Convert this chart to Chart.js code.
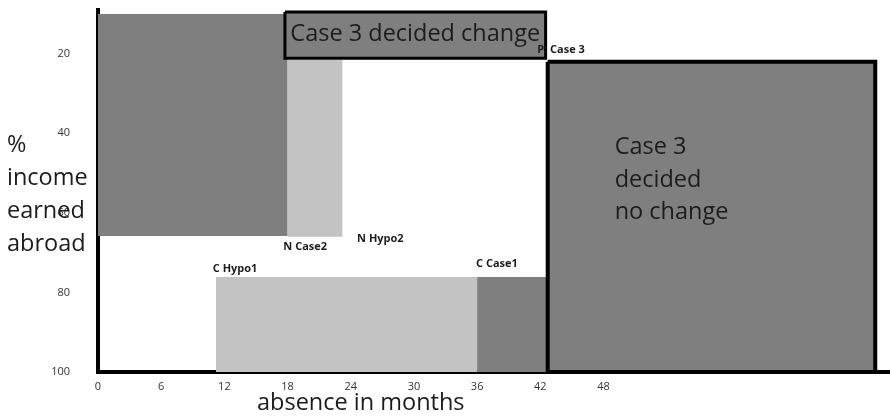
<!DOCTYPE html>
<html>
<head>
<meta charset="utf-8">
<script src="https://cdn.jsdelivr.net/npm/chart.js@4.4.1/dist/chart.umd.min.js"></script>
<style>
    html, body { margin: 0; padding: 0; background: #fff; }
    #wrap { width: 890px; height: 417px; position: relative; }
</style>
</head>
<body>
<div id="wrap"><canvas id="chart"></canvas></div>
<script>
// Areas: months of absence on x, % income earned abroad on y (y grows downward)
const boxXStart   = [0, 18, 17.75, 11.2, 36, 42.7];
const boxXEnd     = [18, 23.2, 42.5, 36, 42.6, 73.8];
const boxYTop     = [10, 21.6, 9.5, 76.1, 76.1, 22];
const boxYBottom  = [65.8, 66, 21.1, 100, 100, 100];
const boxShade    = ['dark', 'light', 'dark', 'light', 'dark', 'dark'];
const boxOutlined = [false, false, true, false, false, true];
const boxText     = ['', '', 'Case 3 decided change', '', '', 'Case 3\ndecided\nno change'];

// Small bold point labels
const pointLabels = ['N Case2', 'N Hypo2', 'C Hypo1', 'C Case1', 'P: Case 3'];
const pointLabelX = [17.6, 24.6, 10.9, 35.9, 41.7];
const pointLabelY = [68.6, 66.6, 74.1, 72.9, 19.1];

const xTicks = [0, 6, 12, 18, 24, 30, 36, 42, 48];
const yTicks = [20, 40, 60, 80, 100];
const xTitle = 'absence in months';
const yTitleLines = ['%', 'income', 'earned', 'abroad'];

const shades = { dark: '#7f7f7f', light: '#c3c3c3' };
const inkColor = '#1c1c1c';

const datasets = boxXStart.map((x0, i) => {
    const x1 = boxXEnd[i], y0 = boxYTop[i], y1 = boxYBottom[i];
    return {
        data: [{x: x0, y: y0}, {x: x1, y: y0}, {x: x1, y: y1}, {x: x0, y: y1}, {x: x0, y: y0}],
        fill: 'shape',
        backgroundColor: shades[boxShade[i]],
        borderColor: boxOutlined[i] ? '#000' : 'rgba(0,0,0,0)',
        borderWidth: boxOutlined[i] ? (i === 5 ? 4 : 3) : 0,
        borderJoinStyle: 'miter',
        pointRadius: 0,
        tension: 0,
        order: boxXStart.length - i
    };
});

// Texts drawn on top of the areas
const sketchText = {
    id: 'sketchText',
    afterDatasetsDraw(chart) {
        const { ctx, scales: { x, y } } = chart;
        ctx.save();
        ctx.fillStyle = inkColor;
        ctx.textBaseline = 'middle';

        boxText.forEach((txt, i) => {
            if (!txt) return;
            const left = x.getPixelForValue(boxXStart[i]);
            const right = x.getPixelForValue(boxXEnd[i]);
            const top = y.getPixelForValue(boxYTop[i]);
            const bottom = y.getPixelForValue(boxYBottom[i]);
            ctx.font = '23.5px "Open Sans"';
            const lines = txt.split('\n');
            if (lines.length === 1) {
                ctx.textAlign = 'center';
                ctx.fillText(txt, (left + right) / 2, (top + bottom) / 2 - 1);
            } else {
                ctx.textAlign = 'left';
                lines.forEach((l, k) => ctx.fillText(l, left + 67, top + 86 + k * 32.5));
            }
        });

        ctx.font = 'bold 11px "Open Sans"';
        ctx.textAlign = 'left';
        pointLabels.forEach((lbl, i) => {
            ctx.fillText(lbl, x.getPixelForValue(pointLabelX[i]), y.getPixelForValue(pointLabelY[i]));
        });

        // axis titles, written flat like the sketch
        ctx.font = '23.5px "Open Sans"';
        yTitleLines.forEach((l, k) => ctx.fillText(l, 7, 145 + k * 33));
        ctx.fillText(xTitle, 257, 403);
        ctx.restore();
    }
};

new Chart(document.getElementById('chart'), {
    type: 'line',
    data: { datasets: datasets },
    options: {
        responsive: true,
        maintainAspectRatio: false,
        animation: false,
        layout: { padding: { top: 10, left: 0, right: 0, bottom: 0 } },
        plugins: {
            legend: { display: false },
            tooltip: { enabled: false }
        },
        scales: {
            x: {
                type: 'linear',
                min: 0,
                max: 75.2,
                grid: { display: false, drawTicks: false },
                border: { display: true, color: '#000', width: 4 },
                ticks: { color: '#333', font: { family: 'Open Sans', size: 11 }, padding: 8, maxRotation: 0 },
                afterBuildTicks: s => { s.ticks = xTicks.map(v => ({ value: v })); },
                afterFit: s => { s.height = 45; s.paddingLeft = 0; s.paddingRight = 0; }
            },
            y: {
                type: 'linear',
                reverse: true,
                min: 9,
                max: 100,
                grid: { display: false, drawTicks: false },
                border: { display: true, color: '#000', width: 4 },
                ticks: { color: '#333', font: { family: 'Open Sans', size: 11 }, padding: 28 },
                afterBuildTicks: s => { s.ticks = yTicks.map(v => ({ value: v })); },
                afterFit: s => { s.width = 98; s.paddingTop = 0; s.paddingBottom = 0; }
            }
        }
    },
    plugins: [sketchText]
});
</script>
</body>
</html>
